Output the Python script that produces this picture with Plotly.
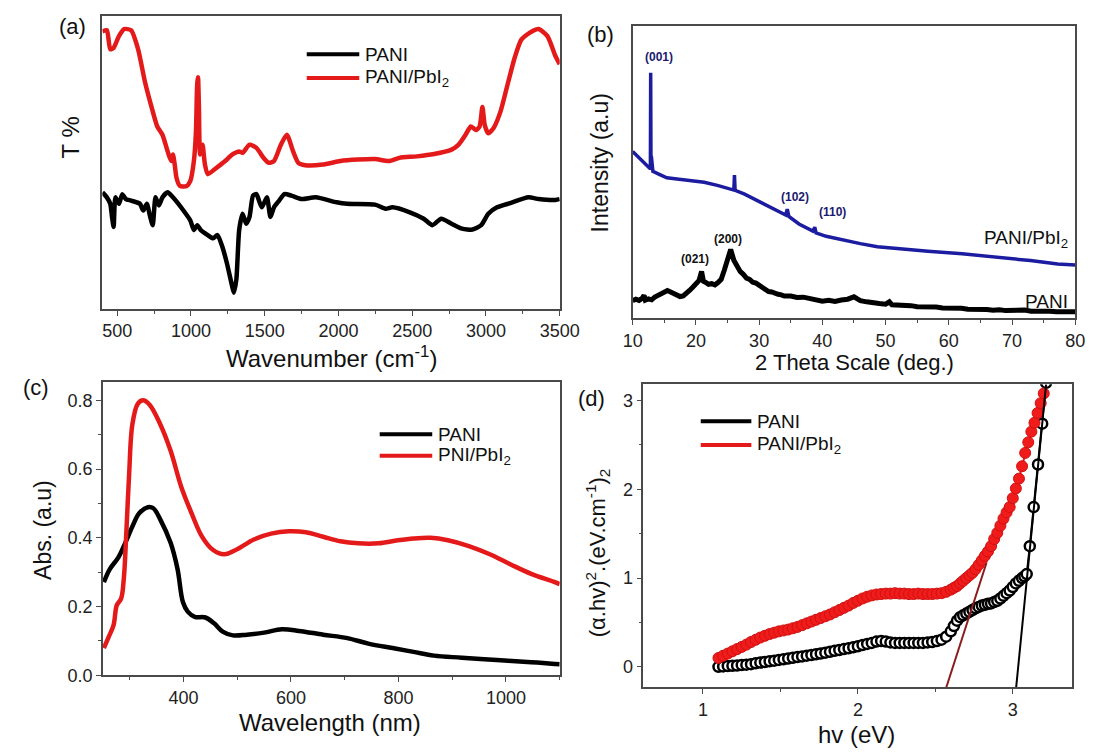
import plotly.graph_objects as go

FONT = "Arial, Liberation Sans, sans-serif"
RED = "#e41a1a"
BLUE = "#1c1ca0"
NAVY = "#1a1a70"
FRAME = "#4a4a4a"

# ---------------- (a) FTIR ----------------
ftir_pani_wn = [400, 430, 453, 465, 476, 488, 512, 535, 559, 594, 654, 677, 701, 724, 741, 760, 783,
                807, 842, 878, 949, 996, 1020, 1043, 1067, 1114, 1150, 1180, 1209, 1244, 1279, 1291,
                1308, 1327, 1350, 1374, 1397, 1421, 1444, 1480, 1515, 1539, 1563, 1598, 1634, 1681,
                1752, 1846, 1988, 2059, 2248, 2319, 2366, 2484, 2578, 2637, 2697, 2767, 2838, 2909,
                2968, 3016, 3075, 3169, 3288, 3358, 3471, 3500]
ftir_pani_t = [39.9, 38.2, 36.0, 31.5, 28.1, 38.2, 36.0, 39.3, 37.6, 37.1, 36.0, 33.7, 36.0, 31.5, 28.7,
               38.2, 35.4, 38.2, 39.9, 38.2, 33.7, 30.3, 27.0, 28.7, 27.0, 25.3, 24.2, 25.3, 21.9, 15.7,
               7.9, 5.6, 10.1, 27.0, 32.6, 29.2, 31.5, 38.8, 39.3, 34.8, 38.2, 31.5, 34.8, 37.1, 39.3,
               38.8, 37.6, 38.2, 36.5, 36.0, 35.7, 34.3, 34.8, 33.1, 30.9, 28.7, 30.9, 29.2, 27.5, 27.2,
               28.7, 32.6, 34.8, 36.3, 38.2, 37.6, 37.3, 37.6]

ftir_comp_wn = [400, 430, 453, 476, 512, 547, 594, 642, 689, 736, 772, 807, 842, 866, 878, 890, 902,
                925, 972, 996, 1020, 1034, 1042, 1048, 1054, 1062, 1072, 1079, 1095, 1114, 1161, 1232,
                1279, 1327, 1350, 1397, 1444, 1492, 1527, 1563, 1610, 1650, 1693, 1728, 1775, 1893,
                2012, 2130, 2248, 2342, 2413, 2531, 2649, 2767, 2815, 2862, 2897, 2933, 2957, 2976,
                2992, 3016, 3051, 3098, 3145, 3192, 3240, 3311, 3358, 3417, 3471, 3500]
ftir_comp_t = [94.9, 95.3, 88.8, 89.3, 93.3, 95.7, 95.3, 88.8, 77.5, 68.5, 62.4, 59.6, 53.9, 50.6, 52.8,
               49.4, 44.9, 42.1, 42.1, 43.8, 50.6, 60.7, 76.4, 79.2, 69.7, 52.8, 54.5, 56.2, 49.4, 46.1,
               47.8, 50.6, 52.8, 53.9, 53.4, 56.2, 55.1, 51.7, 50.0, 50.6, 56.2, 59.6, 53.9, 50.0, 49.2,
               49.4, 50.6, 51.1, 51.3, 50.6, 51.7, 52.2, 53.0, 54.5, 56.2, 59.6, 62.4, 61.2, 62.4, 69.1,
               62.9, 60.1, 61.8, 67.4, 76.4, 85.4, 92.1, 94.9, 95.7, 93.3, 86.5, 83.7]

# ---------------- (b) XRD ----------------
xrd_comp_2t = [10.0, 11.07, 12.15, 12.7, 12.8, 12.85, 12.9, 12.95, 13.2, 14.3, 15.4, 17.0, 19.1, 21.3,
               23.4, 25.0, 26.0, 26.1, 26.2, 27.7, 29.9, 32.0, 34.2, 34.45, 34.7, 36.3, 38.5, 38.8,
               39.0, 40.6, 43.3, 46.0, 48.7, 51.4, 56.7, 62.1, 67.5, 72.9, 77.2, 80.0]
xrd_comp_i = [57.0, 54.7, 52.2, 51.3, 51.3, 83.9, 50.8, 55.5, 50.2, 49.1, 48.0, 47.6, 47.2, 46.5,
              45.4, 44.4, 43.8, 48.9, 43.7, 42.4, 40.1, 37.9, 35.3, 37.3, 34.8, 32.2, 29.8, 31.1,
              29.2, 28.0, 26.6, 25.5, 24.4, 23.8, 22.9, 22.0, 20.9, 19.7, 18.5, 18.2]

xrd_pani_2t = [10.0, 10.5, 11.0, 11.5, 11.8, 12.0, 12.5, 13.0, 13.5, 14.0, 14.5, 15.0, 15.5, 16.0, 16.5,
               17.0, 17.5, 18.0, 18.5, 19.0, 19.5, 20.0, 20.5, 20.9, 21.2, 21.5, 22.0, 22.5, 23.0,
               23.5, 24.0, 24.5, 25.0, 25.5, 26.0, 26.5, 27.0, 27.5, 28.0, 28.5, 29.0, 29.5, 30.0,
               30.5, 31.0, 31.5, 32.0, 32.5, 33.0, 33.5, 34.0, 35.0, 36.0, 37.0, 38.0, 39.0, 40.0,
               41.0, 42.0, 43.0, 44.0, 45.0, 46.0, 47.0, 48.0, 49.0, 50.0, 50.6, 51.0, 52.0, 53.0,
               54.0, 55.0, 56.0, 57.0, 58.0, 59.0, 60.0, 61.0, 62.0, 63.0, 64.0, 65.0, 66.0, 67.0,
               68.0, 69.0, 70.0, 71.0, 72.0, 73.0, 74.0, 75.0, 76.0, 77.0, 78.0, 79.0, 80.0]
xrd_pani_i = [6.0, 6.5, 6.1, 6.8, 7.8, 6.2, 6.6, 6.3, 7.2, 7.7, 8.6, 9.1, 9.5, 9.0, 8.6,
              7.9, 7.4, 7.6, 8.3, 9.5, 10.6, 11.6, 12.9, 16.0, 12.6, 12.3, 11.6, 11.8, 11.4,
              12.2, 13.3, 16.5, 20.5, 23.5, 19.8, 17.6, 16.0, 15.0, 13.7, 13.3, 12.3, 12.0, 11.2,
              10.4, 10.0, 9.1, 9.0, 8.4, 8.2, 8.0, 7.6, 7.6, 7.1, 7.2, 6.6, 6.4, 5.8,
              6.1, 5.7, 6.2, 6.5, 7.3, 6.0, 5.6, 5.1, 5.0, 4.8, 5.6, 4.6, 4.6, 4.2,
              4.3, 3.9, 4.0, 3.7, 3.8, 3.5, 3.6, 3.3, 3.4, 3.1, 3.2, 2.9, 3.0, 2.7,
              2.9, 2.6, 2.7, 2.5, 2.8, 2.4, 2.5, 2.3, 2.4, 2.2, 2.3, 2.1, 2.2]

hkl_labels = ["(001)", "(102)", "(110)", "(200)", "(021)"]
hkl_2t = [14.2, 35.6, 41.6, 25.15, 19.8]
hkl_i = [89.2, 41.6, 36.2, 27.2, 20.1]

# ---------------- (c) UV-Vis ----------------
uv_pani_wl = [252, 263, 279, 292, 305, 318, 334, 344, 357, 376, 389, 399, 408, 421, 441, 457, 473,
              492, 518, 550, 583, 615, 660, 705, 744, 789, 828, 866, 918, 983, 1047, 1091, 1100]
uv_pani_a = [0.271, 0.309, 0.343, 0.386, 0.433, 0.472, 0.489, 0.486, 0.453, 0.386, 0.309, 0.213,
             0.185, 0.170, 0.168, 0.151, 0.127, 0.116, 0.118, 0.124, 0.134, 0.129, 0.118, 0.108,
             0.092, 0.079, 0.068, 0.057, 0.051, 0.044, 0.038, 0.033, 0.032]

uv_comp_wl = [252, 260, 270, 276, 284, 289, 294, 299, 305, 315, 325, 337, 357, 376, 396, 415, 434,
              454, 476, 499, 531, 563, 596, 628, 660, 692, 725, 763, 796, 828, 860, 892, 931, 970,
              1008, 1047, 1091, 1100]
uv_comp_a = [0.079, 0.108, 0.146, 0.204, 0.223, 0.280, 0.424, 0.587, 0.730, 0.790, 0.800, 0.787,
             0.730, 0.654, 0.548, 0.472, 0.405, 0.366, 0.352, 0.366, 0.395, 0.412, 0.419, 0.416,
             0.403, 0.390, 0.384, 0.384, 0.392, 0.398, 0.400, 0.393, 0.376, 0.352, 0.323, 0.295,
             0.271, 0.265]

# ---------------- (d) Tauc plot ----------------
tauc_comp_hv = [1.10, 1.13, 1.16, 1.19, 1.22, 1.25, 1.28, 1.31, 1.34, 1.37, 1.40, 1.43, 1.46, 1.49,
                1.52, 1.55, 1.58, 1.61, 1.64, 1.67, 1.70, 1.73, 1.76, 1.79, 1.82, 1.85, 1.88, 1.91,
                1.94, 1.97, 2.00, 2.03, 2.06, 2.09, 2.12, 2.15, 2.18, 2.21, 2.24, 2.27, 2.30, 2.33,
                2.36, 2.39, 2.42, 2.45, 2.48, 2.51, 2.54, 2.57, 2.60, 2.62, 2.64, 2.66, 2.68, 2.70,
                2.72, 2.74, 2.76, 2.78, 2.80, 2.82, 2.84, 2.86, 2.88, 2.90, 2.92, 2.94, 2.96, 2.98,
                3.00, 3.02, 3.04, 3.06, 3.08, 3.10, 3.12, 3.14, 3.16, 3.18, 3.20]
tauc_comp_y = [0.10, 0.125, 0.15, 0.175, 0.20, 0.225, 0.25, 0.28, 0.305, 0.33, 0.35, 0.37, 0.385, 0.40,
               0.41, 0.42, 0.435, 0.45, 0.47, 0.49, 0.51, 0.53, 0.55, 0.57, 0.59, 0.615, 0.64, 0.665,
               0.69, 0.72, 0.745, 0.77, 0.79, 0.805, 0.815, 0.82, 0.825, 0.825, 0.83, 0.825, 0.825, 0.82,
               0.82, 0.825, 0.82, 0.82, 0.82, 0.825, 0.83, 0.845, 0.87, 0.89, 0.91, 0.94, 0.97, 1.00,
               1.03, 1.06, 1.10, 1.15, 1.20, 1.25, 1.30, 1.36, 1.44, 1.51, 1.59, 1.67, 1.74, 1.80,
               1.90, 2.01, 2.12, 2.26, 2.41, 2.53, 2.65, 2.75, 2.86, 2.97, 3.08]

tauc_pani_hv = [1.10, 1.13, 1.16, 1.19, 1.22, 1.25, 1.28, 1.31, 1.34, 1.37, 1.40, 1.43, 1.46, 1.49,
                1.52, 1.55, 1.58, 1.61, 1.64, 1.67, 1.70, 1.73, 1.76, 1.79, 1.82, 1.85, 1.88, 1.91,
                1.94, 1.97, 2.00, 2.03, 2.06, 2.09, 2.12, 2.15, 2.18, 2.21, 2.24, 2.27, 2.30, 2.33,
                2.36, 2.39, 2.42, 2.45, 2.48, 2.51, 2.54, 2.57, 2.60, 2.62, 2.64, 2.66, 2.68, 2.70,
                2.72, 2.74, 2.76, 2.78, 2.80, 2.82, 2.84, 2.86, 2.88, 2.90, 2.92, 2.94, 2.96, 2.98,
                3.00, 3.02, 3.04, 3.06, 3.075, 3.09, 3.11, 3.135, 3.163, 3.19, 3.215]
tauc_pani_y = [0.0, 0.005, 0.01, 0.012, 0.015, 0.02, 0.025, 0.03, 0.04, 0.048, 0.055, 0.063, 0.07, 0.078,
               0.086, 0.094, 0.103, 0.11, 0.118, 0.126, 0.134, 0.142, 0.15, 0.16, 0.17, 0.18, 0.19, 0.20,
               0.21, 0.22, 0.232, 0.245, 0.258, 0.27, 0.285, 0.29, 0.285, 0.275, 0.27, 0.27, 0.27, 0.27,
               0.27, 0.27, 0.27, 0.275, 0.28, 0.29, 0.306, 0.34, 0.40, 0.46, 0.52, 0.56, 0.58, 0.60,
               0.62, 0.64, 0.66, 0.675, 0.69, 0.70, 0.71, 0.715, 0.73, 0.745, 0.77, 0.80, 0.83, 0.86,
               0.90, 0.94, 0.97, 1.00, 1.02, 1.045, 1.36, 1.80, 2.28, 2.74, 3.2]

# Linear extrapolations of the absorption edges (end points)
fit_comp_hv = [2.571, 2.83]
fit_comp_y = [-0.23, 1.17]
fit_pani_hv = [3.022, 3.215]
fit_pani_y = [-0.23, 3.18]

W, H = 1107, 754


def px(x):
    return x / W


def py(y):
    return 1 - y / H


fig = go.Figure()

# (a)
fig.add_trace(go.Scatter(x=ftir_pani_wn, y=ftir_pani_t, mode="lines",
                         line=dict(color="black", width=4.5, shape="spline", smoothing=0.6),
                         xaxis="x", yaxis="y", showlegend=False))
fig.add_trace(go.Scatter(x=ftir_comp_wn, y=ftir_comp_t, mode="lines",
                         line=dict(color=RED, width=4.5, shape="spline", smoothing=0.6),
                         xaxis="x", yaxis="y", showlegend=False))
# (b)
fig.add_trace(go.Scatter(x=xrd_comp_2t, y=xrd_comp_i, mode="lines", line=dict(color=BLUE, width=3.5),
                         xaxis="x2", yaxis="y2", showlegend=False))
fig.add_trace(go.Scatter(x=xrd_pani_2t, y=xrd_pani_i, mode="lines", line=dict(color="black", width=5),
                         xaxis="x2", yaxis="y2", showlegend=False))
# (c)
fig.add_trace(go.Scatter(x=uv_pani_wl, y=uv_pani_a, mode="lines", line=dict(color="black", width=4.5, shape="spline"),
                         xaxis="x3", yaxis="y3", showlegend=False))
fig.add_trace(go.Scatter(x=uv_comp_wl, y=uv_comp_a, mode="lines", line=dict(color=RED, width=4.5, shape="spline"),
                         xaxis="x3", yaxis="y3", showlegend=False))
# (d)
fig.add_trace(go.Scatter(x=tauc_pani_hv, y=tauc_pani_y, mode="lines+markers",
                         line=dict(color="black", width=2),
                         marker=dict(symbol="circle", size=10, color="white", line=dict(color="black", width=2.5)),
                         xaxis="x4", yaxis="y4", showlegend=False))
fig.add_trace(go.Scatter(x=tauc_comp_hv, y=tauc_comp_y, mode="lines+markers",
                         line=dict(color=RED, width=2),
                         marker=dict(symbol="circle", size=11, color="#f01c1c", line=dict(color="#d01010", width=1)),
                         xaxis="x4", yaxis="y4", showlegend=False))
fig.add_trace(go.Scatter(x=fit_comp_hv, y=fit_comp_y, mode="lines", line=dict(color="#8a1c1c", width=2),
                         xaxis="x4", yaxis="y4", showlegend=False))
fig.add_trace(go.Scatter(x=fit_pani_hv, y=fit_pani_y, mode="lines", line=dict(color="black", width=2),
                         xaxis="x4", yaxis="y4", showlegend=False))

tickfont = dict(family=FONT, size=18, color="#222")


def axis(domain, rng, anchor, **kw):
    d = dict(domain=domain, range=rng, anchor=anchor, showline=True, mirror=True, linecolor=FRAME,
             linewidth=1.5, showgrid=False, zeroline=False, tickfont=tickfont, ticks="outside",
             ticklen=5, tickwidth=1.2, tickcolor=FRAME)
    d.update(kw)
    return d


def minor_ticks(dt):
    return dict(dtick=dt, ticks="outside", ticklen=3, tickwidth=1, tickcolor=FRAME)


layout = dict(
    width=W, height=H, margin=dict(l=0, r=0, t=0, b=0), paper_bgcolor="white", plot_bgcolor="white",
    showlegend=False, font=dict(family=FONT, color="#111"),
    # (a)
    xaxis=axis([px(95), px(565)], [400, 3500], "y", tick0=500, dtick=500, minor=minor_ticks(250)),
    yaxis=axis([py(313.3), py(16.7)], [0, 100], "x", showticklabels=False, ticks=""),
    # (b)
    xaxis2=axis([px(640), px(1095)], [10, 80], "y2", tick0=10, dtick=10, minor=minor_ticks(5)),
    yaxis2=axis([py(322.5), py(26)], [0, 100], "x2", showticklabels=False, ticks=""),
    # (c)
    xaxis3=axis([px(95.4), px(565)], [250, 1100], "y3", tickvals=[400, 600, 800, 1000], minor=dict(
        tickvals=[300, 500, 700, 900, 1100], ticks="outside", ticklen=3, tickwidth=1, tickcolor=FRAME)),
    yaxis3=axis([py(684.3), py(387.3)], [0, 0.853], "x3", tick0=0, dtick=0.2, tickformat=".1f",
                minor=minor_ticks(0.1)),
    # (d)
    xaxis4=axis([px(651), px(1092)], [0.615, 3.385], "y4", tick0=1, dtick=1, minor=minor_ticks(0.5)),
    yaxis4=axis([py(696.5), py(389.3)], [-0.23, 3.185], "x4", tick0=0, dtick=1, minor=minor_ticks(0.5)),
)
fig.update_layout(**layout)

ann = []


def text(x, y, s, size=24, angle=0, xanchor="center", color="#111"):
    ann.append(dict(x=px(x), y=py(y), xref="paper", yref="paper", text=s, showarrow=False,
                    textangle=angle, xanchor=xanchor, yanchor="middle",
                    font=dict(family=FONT, size=size, color=color)))


# panel letters
text(64, 27, "(a)", 22)
text(607, 35, "(b)", 22)
text(27, 393, "(c)", 22)
text(598, 404, "(d)", 22)

# axis titles
text(62, 139, "T %", 24, angle=-90)
text(330, 362, "Wavenumber (cm<sup>-1</sup>)", 24)
text(606, 165, "Intensity (a.u)", 23, angle=-90)
text(868, 367, "2 Theta Scale (deg.)", 22)
text(34, 537, "Abs. (a.u)", 23, angle=-90)
text(329, 732, "Wavelength (nm)", 24)
text(604, 560, "(α.hv)<sup>2</sup>.(eV.cm<sup>-1</sup>)<sub>2</sub>", 22, angle=-90)
text(870, 744, "hv (eV)", 24)

# XRD peak indices and curve names (data coordinates)
for lab, xv, yv in zip(hkl_labels, hkl_2t, hkl_i):
    col = NAVY if lab in ("(001)", "(102)", "(110)") else "#111"
    ann.append(dict(x=xv, y=yv, xref="x2", yref="y2", text="<b>" + lab + "</b>", showarrow=False,
                    font=dict(family=FONT, size=12, color=col)))
ann.append(dict(x=79.2, y=27.2, xref="x2", yref="y2", text="PANI/PbI<sub>2</sub>", showarrow=False,
                xanchor="right", font=dict(family=FONT, size=19, color="#111")))
ann.append(dict(x=79.2, y=5.8, xref="x2", yref="y2", text="PANI", showarrow=False,
                xanchor="right", font=dict(family=FONT, size=19, color="#111")))

# legends
shapes = []


def legend_entry(x0, x1, y, color, label):
    shapes.append(dict(type="line", xref="paper", yref="paper", x0=px(x0), x1=px(x1), y0=py(y), y1=py(y),
                       line=dict(color=color, width=4)))
    text(x1 + 4, y, label, 19, xanchor="left")


legend_entry(305, 359, 55, "black", "PANI")
legend_entry(305, 359, 79, RED, "PANI/PbI<sub>2</sub>")
legend_entry(380, 434, 440, "black", "PANI")
legend_entry(380, 434, 462, RED, "PNI/PbI<sub>2</sub>")
legend_entry(710, 762, 427, "black", "PANI")
legend_entry(710, 762, 451, RED, "PANI/PbI<sub>2</sub>")

fig.update_layout(annotations=ann, shapes=shapes)
fig.write_html("out.html")
